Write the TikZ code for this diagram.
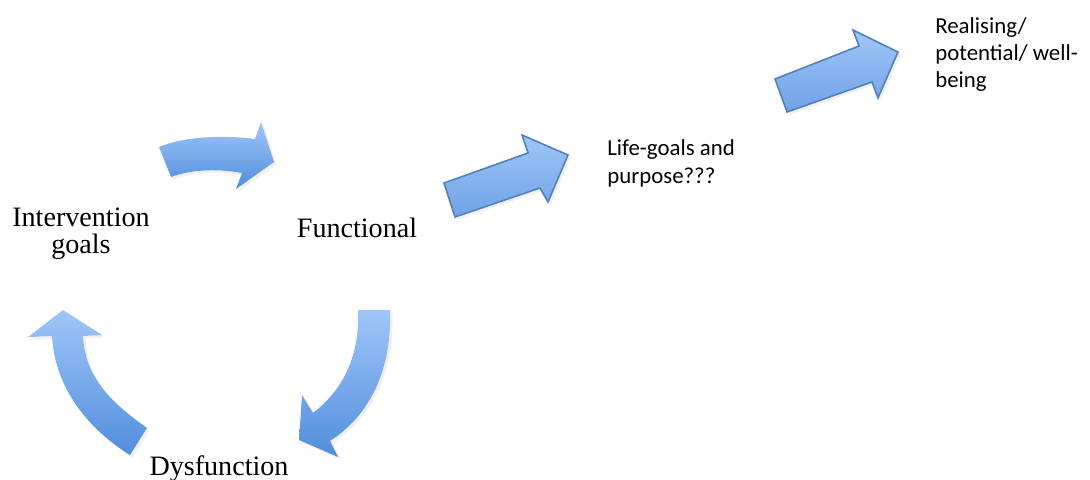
\documentclass[tikz,border=0pt]{standalone}
\usepackage{fontspec}
\setmainfont{Liberation Serif}
\newfontfamily\calibrifont{Carlito}
\usetikzlibrary{shadows,positioning}
\definecolor{arrowlight}{RGB}{160,198,248}
\definecolor{arrowdark}{RGB}{80,142,220}
\definecolor{arrowedge}{RGB}{79,129,189}
\definecolor{arrowmid}{RGB}{112,162,230}

\begin{document}
\begin{tikzpicture}[x=0.02cm,y=-0.02cm,
	curvearrow/.style={top color=arrowlight,bottom color=arrowdark,draw=none,drop shadow={shadow xshift=1.5pt,shadow yshift=-1.5pt,opacity=0.12}},
	straightarrow/.style={top color=arrowlight,bottom color=arrowmid,draw=arrowedge,line width=0.9pt,line join=miter,drop shadow={shadow xshift=1.5pt,shadow yshift=-1.5pt,opacity=0.12}},
	serif/.style={font=\fontsize{16}{15}\selectfont,align=center,inner sep=0pt},
	sans/.style={font=\calibrifont\fontsize{13}{15.6}\selectfont,align=left,inner sep=0pt}]
	
	\useasboundingbox (0,0) rectangle (1090,480);
	
	% curved arrows of the cycle
	\path[curvearrow] (159,147) .. controls (185,136) and (225,135) .. (255,139) -- (261,122) -- (274,162) -- (236,189) -- (242,173) .. controls (215,168) and (190,170) .. (171,177) -- cycle;
	\path[curvearrow] (390,310) .. controls (392,370) and (370,415) .. (330,441) -- (338,457) -- (299,440) -- (302,395) -- (313,413) .. controls (340,392) and (360,360) .. (358,310) -- cycle;
	\path[curvearrow] (63,310) -- (102,335) -- (83,336) .. controls (85,380) and (115,405) .. (147,428) -- (130,455) .. controls (90,430) and (55,390) .. (52,336) -- (28,337) -- cycle;
	
	% straight arrows
	\path[straightarrow] (444,183) -- (528,153) -- (522,135) -- (568,155) -- (548,202) -- (540,188) -- (455,217) -- cycle;
	\path[straightarrow] (775,79) -- (859,46) -- (853,30) -- (898,52) -- (878,98) -- (872,82) -- (787,112) -- cycle;
	
	\node[serif,anchor=base] (interv) at (81,253) {Intervention\\goals};
	\node[serif,anchor=base] (functional) at (357,237) {Functional};
	\node[serif,anchor=base] (dysfunc) at (219,475) {Dysfunction};
	\node[sans,anchor=base west] (lifegoals) at (607,183) {Life-goals and\\purpose???};
	\node[sans,anchor=base west] (realising) at (935,88) {Realising/\\potential/ well-\\being};
	
\end{tikzpicture}
\end{document}
